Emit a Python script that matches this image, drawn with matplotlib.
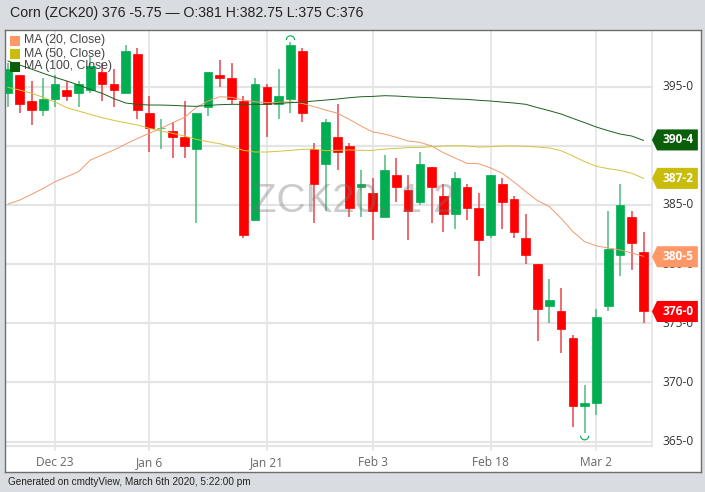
import matplotlib
matplotlib.use('Agg')
import matplotlib.pyplot as plt
from matplotlib.patches import Polygon, Rectangle, Arc

title = 'Corn (ZCK20) 376 -5.75 — O:381 H:382.75 L:375 C:376'
footer = 'Generated on cmdtyView, March 6th 2020, 5:22:00 pm'
watermark = 'ZCK20, 1 2'

opens = [394.5, 396, 393.75, 393, 394, 394.75, 394.5, 394.75, 396.25, 395.25, 394.5, 397.75, 392.75, 391.5,
         391.25, 390.75, 389.75, 393.25, 396, 395.75, 393.75, 383.75, 395, 393.5, 394, 398, 389.75, 388.5,
         390.75, 390, 386.5, 386, 384, 387.5, 386.25, 385.25, 388.25, 385.75, 384.25, 386.5, 384.75, 382.5,
         386.75, 385.5, 382.25, 380, 376.5, 376, 373.75, 368, 368.25, 376.5, 380.75, 384, 381]
closes = [396.5, 393.5, 393, 394, 395.25, 394.25, 395.25, 396.75, 395.25, 394.75, 398, 393, 391.5, 391.55,
          390.75, 390, 392.75, 396.25, 395.75, 394, 382.5, 395.25, 393.5, 394.25, 398.5, 392.75, 386.75, 392,
          389.5, 384.75, 386.75, 384.5, 388, 386.5, 384.5, 388.5, 386.5, 384.25, 387.25, 384.75, 382, 387.5,
          385.25, 382.75, 380.75, 376.25, 377, 374.5, 368, 368.25, 375.5, 381.25, 385, 381.75, 376]
highs = [397, 396, 395.5, 395.75, 396, 395.5, 395.5, 397.5, 397, 396.5, 398.5, 398.25, 394.25, 392.25,
         392, 393.75, 392.75, 396.25, 397.25, 397, 394.25, 395.75, 395.25, 396.5, 398.75, 398.25, 390.25, 392.25,
         393.5, 390.25, 388, 387.25, 389.25, 389, 387.5, 389.5, 388.25, 386.75, 387.75, 386.75, 386, 387.5,
         387.25, 385.75, 384.25, 380, 378.75, 378, 374, 369.75, 376.25, 384.5, 386.75, 384.5, 382.75]
lows = [393.25, 392.75, 391.75, 392.5, 393.25, 393.75, 393.25, 394.5, 393.75, 393.25, 394.5, 392.25, 389.5, 389.75,
        389, 389, 383.5, 392.5, 395, 393.5, 382.25, 383.75, 390.75, 392.25, 392.75, 392, 383.5, 384.5,
        388, 384, 384, 382, 384, 385.25, 382, 385, 383.5, 382.75, 383, 383.75, 379, 382.25,
        383, 382.25, 380, 373.5, 375, 372.5, 366.25, 365.75, 367.25, 376, 379, 379.5, 375]

ma20 = [385.08, 385.42, 385.9, 386.41, 386.97, 387.39, 387.82, 388.8, 389.23, 389.65, 390.15, 390.63, 391.06, 391.48,
        391.96, 392.41, 393.25, 393.79, 394.15, 394.1, 393.87, 393.73, 393.65, 393.68, 393.73, 393.59, 393.31, 393.03,
        392.75, 392.24, 391.68, 391.17, 391.0, 390.72, 390.41, 390.3, 389.99, 389.42, 388.97, 388.52, 388.49, 388.13,
        387.68, 386.94, 386.13, 385.37, 384.86, 383.87, 382.75, 381.9, 381.54, 381.37, 381.2, 380.94, 380.66]
ma50 = [394.94, 394.72, 394.44, 394.1, 393.7, 393.23, 392.94, 392.66, 392.38, 392.15, 391.96, 391.76, 391.48, 391.25,
        391.06, 390.83, 390.55, 390.35, 390.18, 389.93, 389.62, 389.48, 389.48, 389.54, 389.62, 389.7, 389.73, 389.59,
        389.62, 389.65, 389.62, 389.62, 389.73, 389.79, 389.85, 389.87, 389.93, 389.99, 390.01, 389.99, 389.9, 389.93,
        389.99, 389.99, 389.96, 389.9, 389.82, 389.59, 389.14, 388.66, 388.27, 388.07, 387.93, 387.68, 387.25]
ma100 = [397.17, 396.83, 396.49, 396.13, 395.79, 395.48, 395.14, 394.77, 394.44, 393.99, 393.62, 393.51, 393.45, 393.45,
         393.42, 393.37, 393.34, 393.42, 393.48, 393.51, 393.51, 393.51, 393.51, 393.59, 393.65, 393.7, 393.79, 393.87,
         393.96, 394.07, 394.15, 394.18, 394.24, 394.21, 394.15, 394.1, 394.07, 394.01, 393.96, 393.93, 393.85, 393.79,
         393.7, 393.62, 393.51, 393.23, 392.97, 392.69, 392.32, 391.96, 391.59, 391.28, 391.0, 390.83, 390.46]

date_pos = [4, 12, 22, 31, 41, 50]
date_labels = ['Dec 23', 'Jan 6', 'Jan 21', 'Feb 3', 'Feb 18', 'Mar 2']
price_ticks = [365, 370, 375, 380, 385, 390, 395]
price_labels = ['365-0', '370-0', '375-0', '380-0', '385-0', '', '395-0']

tag_values = [390.5, 387.25, 380.625, 376]
tag_labels = ['390-4', '387-2', '380-5', '376-0']
tag_colors = ['#0b5f0b', '#c9bc0a', '#ff9866', '#fb0007']

GREEN = '#00ad50'
RED = '#ff0000'
GRID = '#e4e4e6'
BG = '#d9dce0'

W, H = 705, 492
fig = plt.figure(figsize=(W / 100, H / 100), dpi=100, facecolor=BG)
left, right, top, bottom = 4.5, 700.7, 29.5, 472
ax = fig.add_axes([left / W, 1 - bottom / H, (right - left) / W, (bottom - top) / H])
ax.set_xlim(-0.297, 58.86)
ax.set_ylim(362.43, 399.835)
ax.set_xticks([])
ax.set_yticks([])
for s in ax.spines.values():
    s.set_color('#6e6e6e')
    s.set_linewidth(1)

plot_right = 54.74
plot_bottom = 364.63

# grid
for p in price_ticks:
    ax.plot([-0.3, plot_right], [p, p], color=GRID, lw=1.6, zorder=1)
ax.plot([-0.3, plot_right], [plot_bottom, plot_bottom], color=GRID, lw=1.6, zorder=1)
ax.plot([plot_right, plot_right], [plot_bottom, 399.835], color=GRID, lw=1.2, zorder=1)
for d in date_pos:
    ax.plot([d, d], [364.25, 399.835], color=GRID, lw=1.2, zorder=1)

# candles
for i in range(len(opens)):
    col = GREEN if closes[i] >= opens[i] else RED
    wick = '#4fb97f' if col == GREEN else '#e8444c'
    ax.plot([i, i], [lows[i], highs[i]], color=wick, lw=1.1, zorder=3, solid_capstyle='butt')
    lo = min(opens[i], closes[i])
    ax.add_patch(Rectangle((i - 0.37, lo), 0.74, abs(closes[i] - opens[i]), facecolor=col,
                           edgecolor=col, lw=0.5, zorder=4))

# moving averages
ax.plot(range(len(ma20)), ma20, color='#ef9a6c', lw=0.7, zorder=5)
ax.plot(range(len(ma50)), ma50, color='#d2c43a', lw=0.7, zorder=5)
ax.plot(range(len(ma100)), ma100, color='#1d5f1d', lw=0.7, zorder=5)

# watermark sits over the candles
ax.text(29.4, 385.3, watermark, fontsize=29, color='#777777', family='Liberation Sans',
        ha='center', va='center', alpha=0.38, zorder=6)

# hi/lo markers
ax.add_patch(Arc((24, highs[24] + 0.2), 0.7, 0.7, theta1=0, theta2=180, color=GREEN, lw=0.8, zorder=5))
ax.add_patch(Arc((49, lows[49] - 0.25), 0.7, 0.7, theta1=180, theta2=360, color=GREEN, lw=0.8, zorder=5))

# axis labels
for d, lab in zip(date_pos, date_labels):
    ax.text(d, 363.22, lab, fontsize=8.6, color='#666666', family='Open Sans', ha='center', va='center')
for p, lab in zip(price_ticks, price_labels):
    ax.text(55.65, p, lab, fontsize=8.6, color='#333333', family='Open Sans', ha='left', va='center')

# value tags
for v, lab, c in zip(tag_values, tag_labels, tag_colors):
    h = 0.89
    x0, x1, x2 = 54.72, 55.15, 58.62
    ax.add_patch(Polygon([(x0, v), (x1, v + h), (x2, v + h), (x2, v - h), (x1, v - h)],
                         closed=True, facecolor=c, edgecolor='none', zorder=7))
    ax.text(56.92, v, lab, fontsize=8.6, color='white', weight='bold',
            family='Open Sans', ha='center', va='center', zorder=8)

# legend
leg_items = [('MA (20, Close)', '#ff9866'), ('MA (50, Close)', '#c9bc0a'), ('MA (100, Close)', '#0b5f0b')]
for k, (lab, c) in enumerate(leg_items):
    y = 40.5 + k * 13
    fig.patches.append(Rectangle((10 / W, 1 - (y + 5) / H), 10 / W, 10 / H, transform=fig.transFigure,
                                 facecolor=c, edgecolor='none', zorder=9))
    fig.text(24.5 / W, 1 - y / H, lab, fontsize=8.85, color='#444444', family='Liberation Sans',
             va='center', ha='left', zorder=9)

fig.text(10 / W, 1 - 13 / H, title, fontsize=10.15, color='#222222', family='Liberation Sans', va='center')
fig.text(8 / W, 1 - 482 / H, footer, fontsize=7.2, color='#222222', family='Liberation Sans', va='center')

fig.savefig('out.png', dpi=100, facecolor=BG)
